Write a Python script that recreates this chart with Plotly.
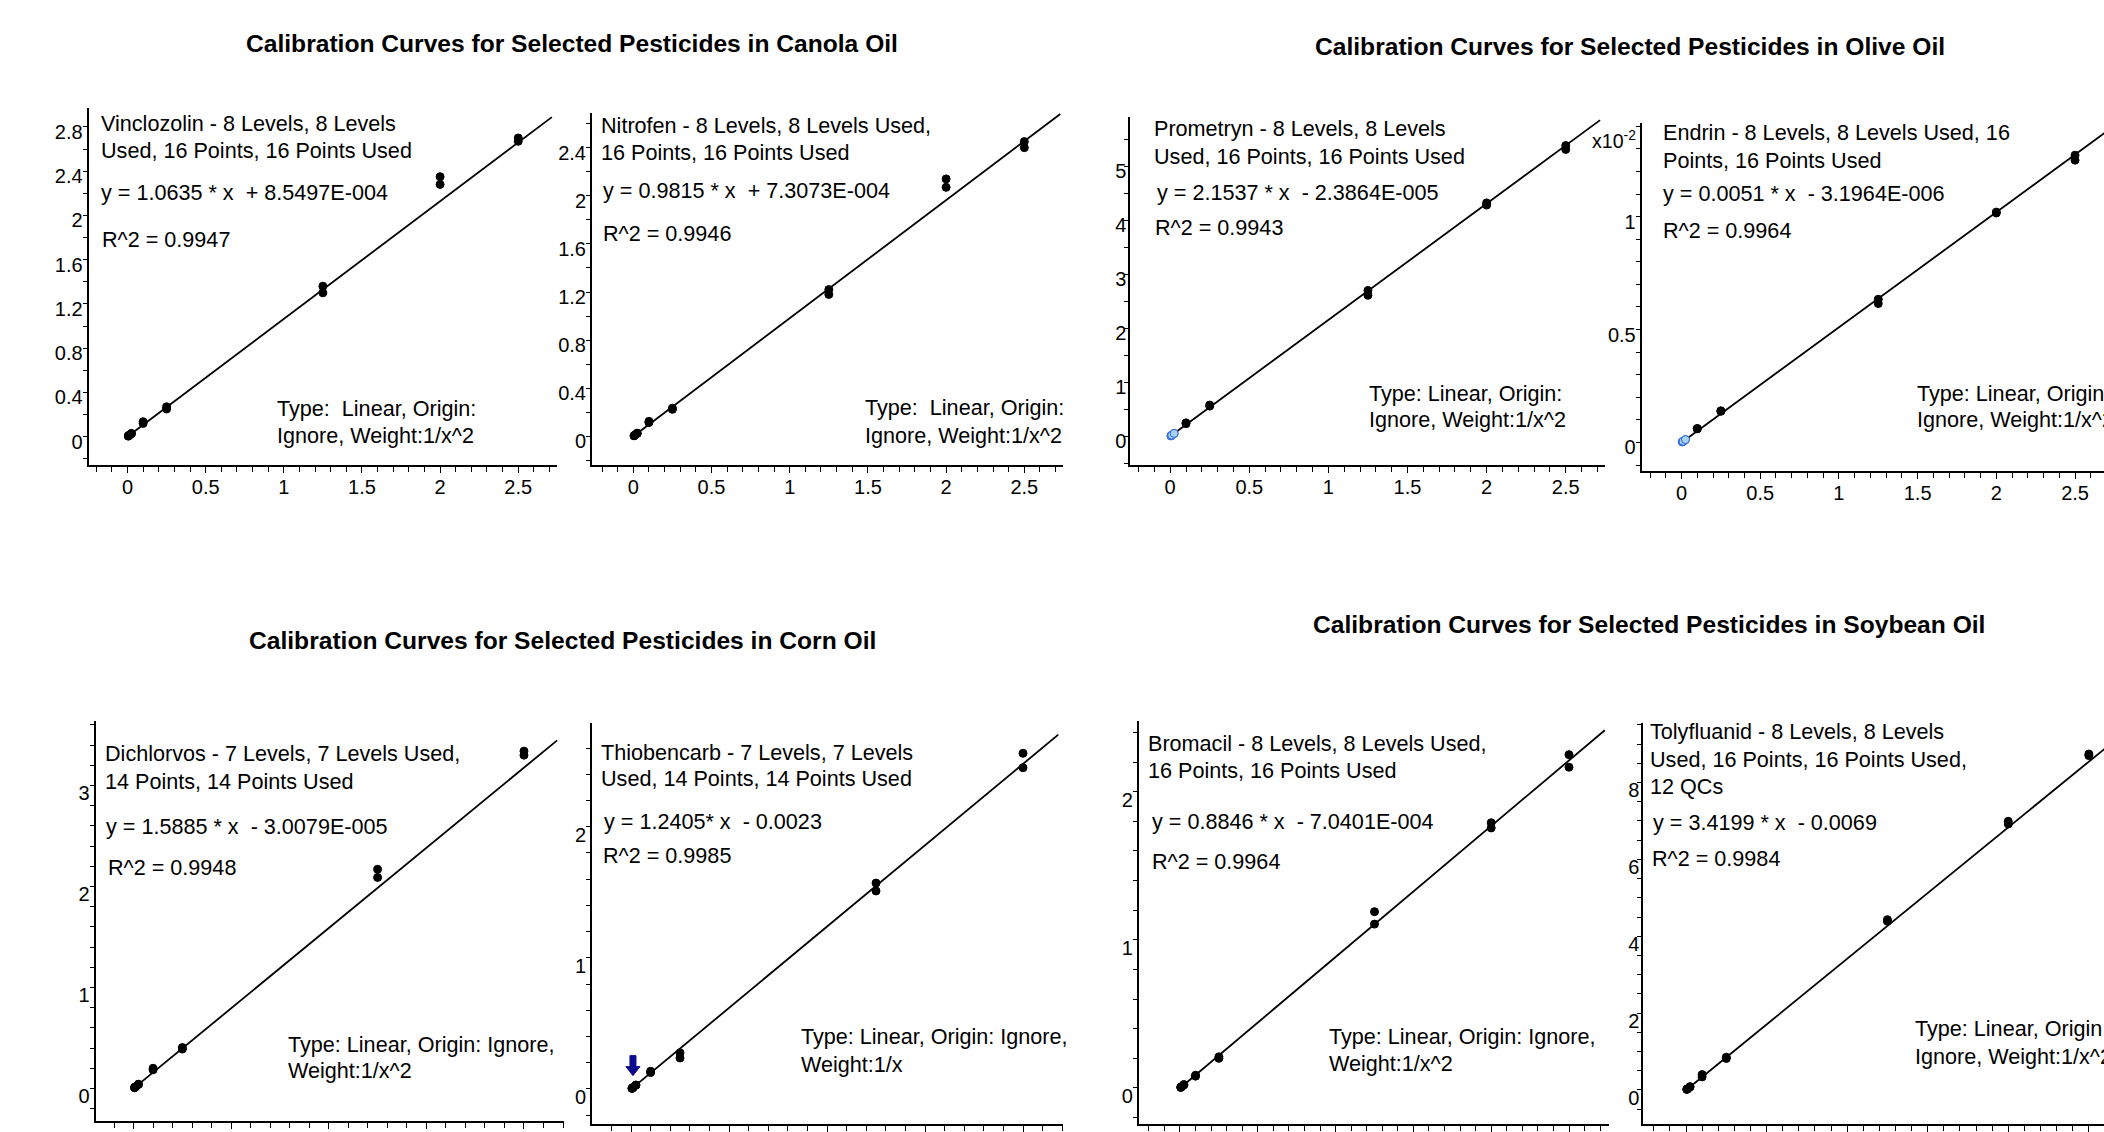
import subprocess
import plotly.graph_objects as go

W = 2104
REF_H = 1132          # height of the reference picture
FIG_H = 1157          # page height that the capture squeezes into REF_H
SY = FIG_H / REF_H

# ---------------------------------------------------------------- data
LEVELS_8 = [0.005, 0.01, 0.025, 0.1, 0.25, 1.25, 2.0, 2.5]
LEVELS_7 = [0.005, 0.01, 0.025, 0.1, 0.25, 1.25, 2.0]

vinclozolin_rep1 = [0.006, 0.011, 0.027, 0.120, 0.250, 1.300, 2.280, 2.670]
vinclozolin_rep2 = [0.005, 0.012, 0.029, 0.135, 0.270, 1.360, 2.350, 2.700]
vinclozolin_fit = (1.0635, 8.5497e-4)

nitrofen_rep1 = [0.005, 0.010, 0.025, 0.115, 0.225, 1.180, 2.070, 2.400]
nitrofen_rep2 = [0.006, 0.011, 0.027, 0.125, 0.235, 1.220, 2.140, 2.450]
nitrofen_fit = (0.9815, 7.3073e-4)

prometryn_rep1 = [0.010, 0.021, 0.053, 0.235, 0.560, 2.610, 4.280, 5.310]
prometryn_rep2 = [0.011, 0.022, 0.055, 0.250, 0.580, 2.700, 4.320, 5.380]
prometryn_fit = (2.1537, -2.3864e-5)

endrin_rep1 = [0.000024, 0.000048, 0.000125, 0.00060, 0.00138, 0.00615, 0.01016, 0.01250]
endrin_rep2 = [0.000026, 0.000050, 0.000128, 0.00062, 0.00140, 0.00634, 0.01020, 0.01272]
endrin_fit = (0.0051, -3.1964e-6)

dichlorvos_rep1 = [0.008, 0.016, 0.040, 0.185, 0.390, 2.090, 3.300]
dichlorvos_rep2 = [0.009, 0.017, 0.042, 0.200, 0.405, 2.170, 3.340]
dichlorvos_fit = (1.5885, -3.0079e-5)

thiobencarb_rep1 = [0.004, 0.010, 0.028, 0.125, 0.236, 1.510, 2.450]
thiobencarb_rep2 = [0.005, 0.011, 0.030, 0.135, 0.276, 1.570, 2.560]
thiobencarb_fit = (1.2405, -0.0023)

bromacil_rep1 = [0.004, 0.008, 0.021, 0.080, 0.200, 1.106, 1.755, 2.165]
bromacil_rep2 = [0.005, 0.009, 0.023, 0.086, 0.210, 1.190, 1.790, 2.250]
bromacil_fit = (0.8846, -7.0401e-4)

tolyfluanid_rep1 = [0.015, 0.030, 0.080, 0.340, 0.820, 4.390, 6.920, 8.700]
tolyfluanid_rep2 = [0.017, 0.033, 0.085, 0.400, 0.850, 4.430, 6.990, 8.740]
tolyfluanid_fit = (3.4199, -0.0069)

NB = "\u00a0"
vinclozolin_text = ["Vinclozolin - 8 Levels, 8 Levels", "Used, 16 Points, 16 Points Used",
                    "y = 1.0635 * x" + NB + " + 8.5497E-004", "R^2 = 0.9947",
                    "Type:" + NB + " Linear, Origin:", "Ignore, Weight:1/x^2"]
nitrofen_text = ["Nitrofen - 8 Levels, 8 Levels Used,", "16 Points, 16 Points Used",
                 "y = 0.9815 * x" + NB + " + 7.3073E-004", "R^2 = 0.9946",
                 "Type:" + NB + " Linear, Origin:", "Ignore, Weight:1/x^2"]
prometryn_text = ["Prometryn - 8 Levels, 8 Levels", "Used, 16 Points, 16 Points Used",
                  "y = 2.1537 * x" + NB + " - 2.3864E-005", "R^2 = 0.9943",
                  "Type: Linear, Origin:", "Ignore, Weight:1/x^2"]
endrin_text = ["Endrin - 8 Levels, 8 Levels Used, 16", "Points, 16 Points Used",
               "y = 0.0051 * x" + NB + " - 3.1964E-006", "R^2 = 0.9964",
               "Type: Linear, Origin:", "Ignore, Weight:1/x^2"]
dichlorvos_text = ["Dichlorvos - 7 Levels, 7 Levels Used,", "14 Points, 14 Points Used",
                   "y = 1.5885 * x" + NB + " - 3.0079E-005", "R^2 = 0.9948",
                   "Type: Linear, Origin: Ignore,", "Weight:1/x^2"]
thiobencarb_text = ["Thiobencarb - 7 Levels, 7 Levels", "Used, 14 Points, 14 Points Used",
                    "y = 1.2405* x" + NB + " - 0.0023", "R^2 = 0.9985",
                    "Type: Linear, Origin: Ignore,", "Weight:1/x"]
bromacil_text = ["Bromacil - 8 Levels, 8 Levels Used,", "16 Points, 16 Points Used",
                 "y = 0.8846 * x" + NB + " - 7.0401E-004", "R^2 = 0.9964",
                 "Type: Linear, Origin: Ignore,", "Weight:1/x^2"]
tolyfluanid_text = ["Tolyfluanid - 8 Levels, 8 Levels", "Used, 16 Points, 16 Points Used,", "12 QCs",
                    "y = 3.4199 * x" + NB + " - 0.0069", "R^2 = 0.9984",
                    "Type: Linear, Origin:", "Ignore, Weight:1/x^2"]

TITLES = ["Calibration Curves for Selected Pesticides in Canola Oil",
          "Calibration Curves for Selected Pesticides in Olive Oil",
          "Calibration Curves for Selected Pesticides in Corn Oil",
          "Calibration Curves for Selected Pesticides in Soybean Oil"]
ENDRIN_MULT_LABEL = "x10<sup>-2</sup>"
ENDRIN_UNIT = 1e-2

# ---------------------------------------------------------------- fonts
def has_font(name):
    try:
        out = subprocess.run(["fc-list", ":", "family"], capture_output=True,
                             text=True, timeout=10).stdout
        return name.lower() in out.lower()
    except Exception:
        return False

if has_font("Liberation Sans Narrow"):
    FONT = "Liberation Sans Narrow"
    TXT, TICK, TITLE_SZ = 25.5, 23, 29.5
else:
    FONT = "Liberation Sans"
    TXT, TICK, TITLE_SZ = 21.6, 20, 24.6

# ---------------------------------------------------------------- layout of panels (reference pixels)
PANELS = [
    dict(levels=LEVELS_8, r1=vinclozolin_rep1, r2=vinclozolin_rep2, fit=vinclozolin_fit, unit=1,
         xend=2.715, box=(88.6, 108, 557, 465), xr=[-0.249, 2.748], yr=[-0.26, 2.97],
         yd=0.4, ym=0.2, shift=5, stand=-4, blue=False, text=vinclozolin_text,
         pos=[(100.7, 123.3), (100.7, 150), (100.7, 192.7), (101.8, 239.3), (276.8, 408.3), (276.8, 435)]),
    dict(levels=LEVELS_8, r1=nitrofen_rep1, r2=nitrofen_rep2, fit=nitrofen_fit, unit=1,
         xend=2.73, box=(592, 113, 1062.8, 465), xr=[-0.264, 2.746], yr=[-0.241, 2.687],
         yd=0.4, ym=0.2, shift=5, stand=-4, blue=False, text=nitrofen_text,
         pos=[(601.3, 125), (601.3, 152.7), (603, 190.7), (603, 233.3), (864.8, 407.3), (864.8, 435)]),
    dict(levels=LEVELS_8, r1=prometryn_rep1, r2=prometryn_rep2, fit=prometryn_fit, unit=1,
         xend=2.717, box=(1130.3, 116.7, 1604.5, 465), xr=[-0.252, 2.745], yr=[-0.537, 5.913],
         yd=1, ym=0.5, shift=5, stand=-6, blue=True, text=prometryn_text,
         pos=[(1154.4, 128.3), (1154.4, 156), (1156.8, 192.7), (1155, 227.7), (1368.6, 392.7), (1368.6, 419.3)]),
    dict(levels=LEVELS_8, r1=endrin_rep1, r2=endrin_rep2, fit=endrin_fit, unit=ENDRIN_UNIT,
         xend=2.9, box=(1641.7, 123, 2104, 470.7), xr=[-0.253, 2.684], yr=[-0.127, 1.414],
         yd=0.5, ym=0.1, shift=5, stand=-4, blue=True, text=endrin_text,
         pos=[(1662.7, 132.3), (1662.7, 160), (1663.3, 193.3), (1662.7, 230.7), (1916.7, 392.7), (1916.7, 419.3)]),
    dict(levels=LEVELS_7, r1=dichlorvos_rep1, r2=dichlorvos_rep2, fit=dichlorvos_fit, unit=1,
         xend=2.17, box=(95.7, 720.8, 564, 1120), xr=[-0.194, 2.205], yr=[-0.322, 3.634],
         yd=1, ym=0.2, shift=8, stand=-4, blue=False, text=dichlorvos_text,
         pos=[(105.4, 752.5), (105.4, 780.7), (106.4, 825.4), (107.9, 867), (287.5, 1044), (287.5, 1070)]),
    dict(levels=LEVELS_7, r1=thiobencarb_rep1, r2=thiobencarb_rep2, fit=thiobencarb_fit, unit=1,
         xend=2.18, box=(592, 722.6, 1062.8, 1122.7), xr=[-0.199, 2.203], yr=[-0.265, 2.789],
         yd=1, ym=0.2, shift=8, stand=-4, blue=False, text=thiobencarb_text,
         pos=[(601.3, 751.5), (601.3, 778.2), (604, 820.5), (603, 854.6), (801, 1036), (801, 1064)]),
    dict(levels=LEVELS_8, r1=bromacil_rep1, r2=bromacil_rep2, fit=bromacil_fit, unit=1,
         xend=2.73, box=(1138.9, 720.8, 1609, 1122.7), xr=[-0.264, 2.757], yr=[-0.241, 2.474],
         yd=1, ym=0.2, shift=8, stand=-4, blue=False, text=bromacil_text,
         pos=[(1147.5, 742.7), (1147.5, 769.4), (1152.3, 820.5), (1152.3, 861), (1329, 1035.3), (1329, 1063)]),
    dict(levels=LEVELS_8, r1=tolyfluanid_rep1, r2=tolyfluanid_rep2, fit=tolyfluanid_fit, unit=1,
         xend=2.9, box=(1643.3, 722.6, 2104, 1122.7), xr=[-0.265, 2.594], yr=[-0.878, 9.542],
         yd=2, ym=0.5, shift=8, stand=-6, blue=False, text=tolyfluanid_text,
         pos=[(1650, 730.7), (1650, 758.5), (1650, 786), (1652.7, 821.9), (1651.7, 858.2), (1915, 1027.9), (1915, 1055.4)]),
]
TITLE_POS = [(572, 43.3), (1630, 46.7), (562.6, 639.9), (1649, 624)]
MULT_POS = (1638, 140)

BLACK = "black"
LIGHT_BLUE = "#a9d3f2"
BLUE_EDGE = "#2b5fd9"
ARROW_BLUE = "#0b0b8f"

fig = go.Figure()
annotations = []
shapes = []
layout = dict(width=W, height=FIG_H, margin=dict(l=0, r=0, t=0, b=0, pad=0),
              paper_bgcolor="white", plot_bgcolor="white", showlegend=False)


def px2paper(x, y):
    """reference pixel -> paper fraction of the (taller) figure"""
    return x / W, 1 - (y * SY) / FIG_H


for i, p in enumerate(PANELS, start=1):
    sfx = "" if i == 1 else str(i)
    xa, ya = "x" + sfx, "y" + sfx
    L, T, R, B = p["box"]
    common = dict(showline=True, linecolor=BLACK, linewidth=2, ticks="outside",
                  tickcolor=BLACK, tickwidth=1, showgrid=False, zeroline=False,
                  tickfont=dict(family=FONT, size=TICK, color=BLACK), tick0=0)
    layout["xaxis" + sfx] = dict(common, domain=[L / W, R / W], range=p["xr"], anchor=ya,
                                 dtick=0.5, ticklen=6, ticklabelstandoff=-3,
                                 minor=dict(dtick=0.1, ticks="outside", ticklen=5,
                                            tickcolor=BLACK, tickwidth=1, showgrid=False))
    layout["yaxis" + sfx] = dict(common, domain=[1 - B / REF_H, 1 - T / REF_H], range=p["yr"],
                                 anchor=xa, dtick=p["yd"], ticklen=4,
                                 ticklabelshift=int(round(p["shift"] * SY)),
                                 ticklabelstandoff=int(p["stand"]),
                                 minor=dict(dtick=p["ym"], ticks="outside", ticklen=4,
                                            tickcolor=BLACK, tickwidth=1, showgrid=False))

    slope, icpt = p["fit"]
    unit = p["unit"]
    lx = [p["levels"][0], p["xend"]]
    ly = [(slope * v + icpt) / unit for v in lx]
    fig.add_trace(go.Scatter(x=lx, y=ly, mode="lines", xaxis=xa, yaxis=ya,
                             line=dict(color=BLACK, width=1.8), hoverinfo="skip"))

    xs = list(p["levels"]) + list(p["levels"])
    ys = [v / unit for v in p["r1"]] + [v / unit for v in p["r2"]]
    n = len(p["levels"])
    if p["blue"]:
        fill = [LIGHT_BLUE if (k % n) < 3 else BLACK for k in range(2 * n)]
        edge = [BLUE_EDGE if (k % n) < 3 else BLACK for k in range(2 * n)]
    else:
        fill = [BLACK] * (2 * n)
        edge = [BLACK] * (2 * n)
    fig.add_trace(go.Scatter(x=xs, y=ys, mode="markers", xaxis=xa, yaxis=ya,
                             marker=dict(size=8, color=fill, line=dict(color=edge, width=1)),
                             cliponaxis=False))

    for txt, (tx, ty) in zip(p["text"], p["pos"]):
        ax_, ay_ = px2paper(tx - 2, ty)
        annotations.append(dict(x=ax_, y=ay_, xref="paper", yref="paper", text=txt,
                                showarrow=False, xanchor="left", yanchor="middle",
                                font=dict(family=FONT, size=TXT, color=BLACK)))

for t, (tx, ty) in zip(TITLES, TITLE_POS):
    ax_, ay_ = px2paper(tx, ty)
    annotations.append(dict(x=ax_, y=ay_, xref="paper", yref="paper", text="<b>" + t + "</b>",
                            showarrow=False, xanchor="center", yanchor="middle",
                            font=dict(family=FONT, size=TITLE_SZ, color=BLACK)))

# x10^-2 multiplier of the Endrin response axis
mx, my = px2paper(*MULT_POS)
annotations.append(dict(x=mx, y=my, xref="paper", yref="paper", text=ENDRIN_MULT_LABEL,
                        showarrow=False, xanchor="right", yanchor="middle",
                        font=dict(family=FONT, size=TXT - 2, color=BLACK)))

# blue arrow marking the lowest Thiobencarb level (pixel-sized, anchored on the point)
shapes.append(dict(type="path", xref="x6", yref="y6", xsizemode="pixel", ysizemode="pixel",
                   xanchor=LEVELS_7[1], yanchor=thiobencarb_rep1[1],
                   path="M -3,32 L 3,32 L 3,21 L 7,21 L 0,12 L -7,21 L -3,21 Z",
                   fillcolor=ARROW_BLUE, line=dict(color=ARROW_BLUE, width=1)))

layout["annotations"] = annotations
layout["shapes"] = shapes
fig.update_layout(**layout)
fig.write_html("out.html", config={"displayModeBar": False},
               post_script="document.body.style.margin='0px';document.body.style.padding='0px';"
                           "document.documentElement.style.overflow='hidden';")
